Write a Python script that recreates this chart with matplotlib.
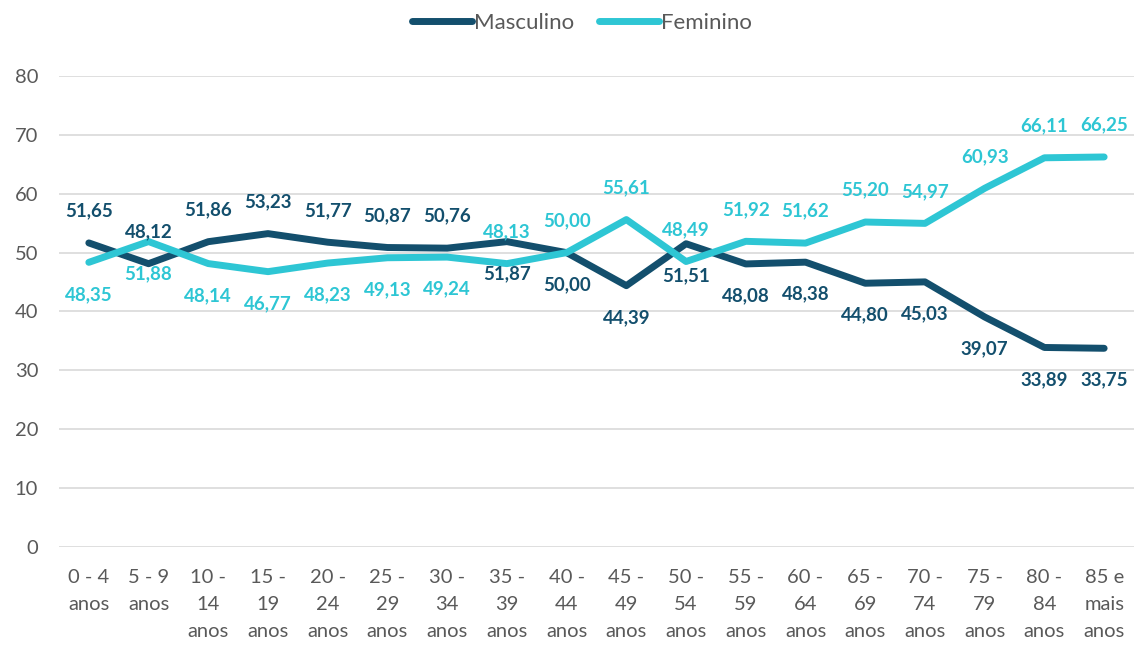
import matplotlib.pyplot as plt
import numpy as np

plt.rcParams['font.family'] = ['Lato', 'DejaVu Sans']

# faixas etarias
categorias = ['0 - 4\nanos', '5 - 9\nanos', '10 -\n14\nanos', '15 -\n19\nanos',
              '20 -\n24\nanos', '25 -\n29\nanos', '30 -\n34\nanos', '35 -\n39\nanos',
              '40 -\n44\nanos', '45 -\n49\nanos', '50 -\n54\nanos', '55 -\n59\nanos',
              '60 -\n64\nanos', '65 -\n69\nanos', '70 -\n74\nanos', '75 -\n79\nanos',
              '80 -\n84\nanos', '85 e\nmais\nanos']

masculino = [51.65, 48.12, 51.86, 53.23, 51.77, 50.87, 50.76, 51.87, 50.00,
             44.39, 51.51, 48.08, 48.38, 44.80, 45.03, 39.07, 33.89, 33.75]
feminino = [48.35, 51.88, 48.14, 46.77, 48.23, 49.13, 49.24, 48.13, 50.00,
            55.61, 48.49, 51.92, 51.62, 55.20, 54.97, 60.93, 66.11, 66.25]

cor_masc = '#134f6d'
cor_fem = '#2ec6d4'
cinza = '#595959'

fig = plt.figure(figsize=(11.34, 6.47), dpi=100)
ax = fig.add_axes([0.052, 0.1546, 0.948, 0.7279])

x = np.arange(len(categorias))
ax.plot(x, masculino, color=cor_masc, lw=5, solid_capstyle='round',
        solid_joinstyle='round', label='Masculino', zorder=3)
ax.plot(x, feminino, color=cor_fem, lw=5, solid_capstyle='round',
        solid_joinstyle='round', label='Feminino', zorder=3)

# rotulos: ate 30-34 masculino em cima, depois feminino em cima
for i in x:
    masc_cima = i < 7
    dy_m = 23 if masc_cima else -23
    ax.annotate(f'{masculino[i]:.2f}'.replace('.', ','), (i, masculino[i]),
                xytext=(0, dy_m), textcoords='offset points', ha='center',
                va='center', color=cor_masc, fontsize=13.5, fontweight='bold')
    ax.annotate(f'{feminino[i]:.2f}'.replace('.', ','), (i, feminino[i]),
                xytext=(0, -dy_m), textcoords='offset points', ha='center',
                va='center', color=cor_fem, fontsize=13.5, fontweight='bold')

ax.set_xlim(-0.5, len(categorias) - 0.5)
ax.set_ylim(0, 80)
ax.set_yticks(range(0, 81, 10))
ax.set_xticks(x)
ax.set_xticklabels(categorias, linespacing=1.7)
ax.tick_params(axis='both', length=0, labelsize=14.5, labelcolor=cinza)
ax.tick_params(axis='y', pad=15)
ax.tick_params(axis='x', pad=16)
ax.grid(axis='y', color='#d9d9d9', lw=1.2)
ax.set_axisbelow(True)
for s in ax.spines.values():
    s.set_visible(False)

leg = fig.legend(loc='center', bbox_to_anchor=(0.513, 0.965), ncol=2,
                 frameon=False, fontsize=16, handlelength=2.7,
                 handletextpad=0.1, columnspacing=1.1)
for t in leg.get_texts():
    t.set_color(cinza)

fig.savefig('out.png', dpi=100)
